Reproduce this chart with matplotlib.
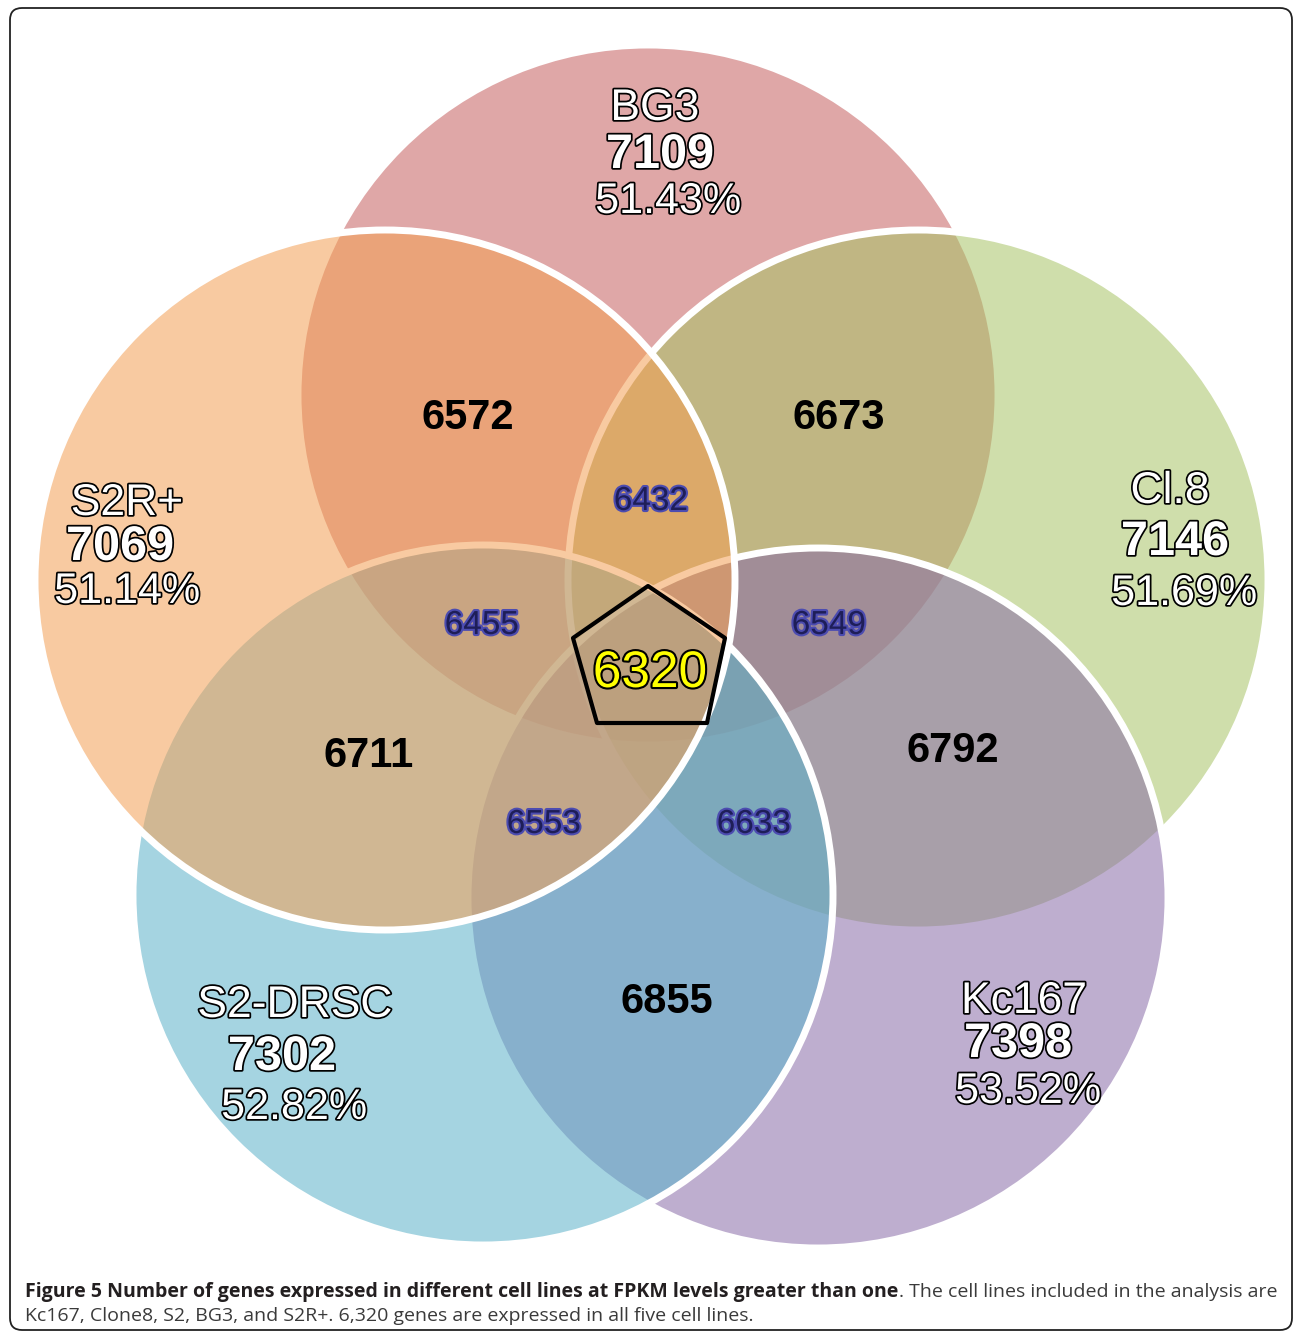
import matplotlib
matplotlib.use('Agg')
import matplotlib.pyplot as plt
import matplotlib.patheffects as pe
from matplotlib.patches import Circle, Polygon, FancyBboxPatch
from matplotlib import font_manager

# data
cell_lines = ['BG3', 'Cl.8', 'Kc167', 'S2-DRSC', 'S2R+']
line_totals = [7109, 7146, 7398, 7302, 7069]
line_pct = ['51.43%', '51.69%', '53.52%', '52.82%', '51.14%']
pair_counts = [6572, 6673, 6792, 6855, 6711]      # BG3/S2R+, BG3/Cl.8, Cl.8/Kc167, Kc167/S2-DRSC, S2-DRSC/S2R+
triple_counts = [6432, 6549, 6633, 6553, 6455]
all_five = 6320

# layout (pixel coords of the 1295x1334 figure)
centers = [(648, 395), (918, 580), (818, 898), (483, 895), (385, 580)]
radius = 350
colors = ['#c55f5f', '#a8c366', '#896ca8', '#5bb2ca', '#f4a054']
zorder = [1, 2, 3, 4, 5]   # BG3 bottom ... S2R+ on top
label_pos = [
    [(655, 120), (660, 168), (668, 213)],
    [(1170, 503), (1175, 555), (1184, 605)],
    [(1024, 1013), (1018, 1057), (1028, 1103)],
    [(295, 1017), (282, 1070), (294, 1119)],
    [(127, 515), (120, 560), (127, 603)],
]
pair_pos = [(468, 429), (839, 429), (953, 762), (667, 1013), (369, 767)]
triple_pos = [(651, 510), (829, 634), (754, 833), (544, 833), (482, 634)]

W, H = 1295, 1334
fig = plt.figure(figsize=(W / 100, H / 100), dpi=100)
ax = fig.add_axes([0, 0, 1, 1])
ax.set_xlim(0, W)
ax.set_ylim(H, 0)
ax.axis('off')

# frame
frame = FancyBboxPatch((10, 8), 1282, 1322, boxstyle='round,pad=0,rounding_size=12',
                       fc='white', ec='#222222', lw=1.3, zorder=0)
ax.add_patch(frame)

for (cx, cy), c, z in zip(centers, colors, zorder):
    ax.add_patch(Circle((cx, cy), radius, fc=matplotlib.colors.to_rgba(c, 0.55),
                        ec='white', lw=5, zorder=z))

# centre pentagon
pent = [(648, 586), (725, 638), (707, 723), (597, 723), (573, 638)]
ax.add_patch(Polygon(pent, closed=True, fill=False, ec='black', lw=3,
                     joinstyle='round', zorder=10))

font = 'Liberation Sans'
white_outline = [pe.withStroke(linewidth=2.5, foreground='black')]

for i in range(5):
    (x1, y1), (x2, y2), (x3, y3) = label_pos[i]
    ax.text(x1, y1, cell_lines[i], ha='center', va='baseline', fontsize=32, family=font,
            color='white', path_effects=white_outline, zorder=20)
    ax.text(x2, y2, str(line_totals[i]), ha='center', va='baseline', fontsize=35,
            fontweight='bold', family=font, color='white', path_effects=white_outline, zorder=20)
    ax.text(x3, y3, line_pct[i], ha='center', va='baseline', fontsize=31, family=font,
            color='white', path_effects=white_outline, zorder=20)

for (x, y), n in zip(pair_pos, pair_counts):
    ax.text(x, y, str(n), ha='center', va='baseline', fontsize=30, fontweight='bold',
            family=font, color='black', zorder=20)

for (x, y), n in zip(triple_pos, triple_counts):
    ax.text(x, y, str(n), ha='center', va='baseline', fontsize=24, family=font,
            color='#1e1e58', zorder=20,
            path_effects=[pe.withStroke(linewidth=3, foreground='#4c4cb0')])

ax.text(650, 687, str(all_five), ha='center', va='baseline', fontsize=37, family=font,
        color='#ffff00', zorder=20,
        path_effects=[pe.withStroke(linewidth=3, foreground='black')])

# caption
names = {f.name for f in font_manager.fontManager.ttflist}
cap_font = 'Liberation Sans Narrow' if 'Liberation Sans Narrow' in names else 'Open Sans'
bold_txt = 'Figure 5 Number of genes expressed in different cell lines at FPKM levels greater than one'
reg_txt = '. The cell lines included in the analysis are'
line2 = 'Kc167, Clone8, S2, BG3, and S2R+. 6,320 genes are expressed in all five cell lines.'

x0 = 25
fs = 14
t1 = ax.text(x0, 1297, bold_txt, fontsize=fs, fontweight='bold', family=cap_font,
             color='#231f20', va='baseline')
t2 = ax.text(x0, 1297, reg_txt, fontsize=fs, family=cap_font, color='#3a3a3a', va='baseline')
fig.canvas.draw()
r = fig.canvas.get_renderer()
wb = t1.get_window_extent(r).width
wr = t2.get_window_extent(r).width
scale = 1253 / (wb + wr)
fs2 = fs * scale
t1.set_fontsize(fs2)
t2.set_fontsize(fs2)
t2.set_x(x0 + wb * scale)
ax.text(x0, 1321, line2, fontsize=fs2, family=cap_font, color='#3a3a3a', va='baseline')

fig.savefig('out.png', dpi=100)
